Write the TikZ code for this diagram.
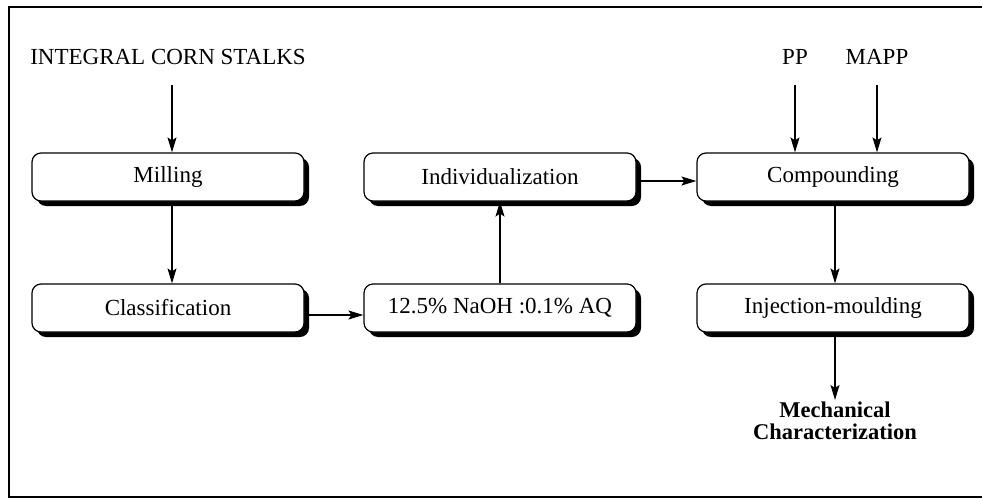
\documentclass[tikz,border=0pt]{standalone}
\usepackage{fontspec}
\setmainfont{Liberation Serif}
\usetikzlibrary{arrows.meta,shadows}
\begin{document}
\begin{tikzpicture}[x=1pt,y=-1pt,
  stepbox/.style={draw, line width=1.2pt, rounded corners=9pt, fill=white,
    minimum width=272pt, minimum height=48pt, inner sep=0pt, font=\fontsize{23}{26}\selectfont,
    drop shadow={shadow xshift=5pt, shadow yshift=-5pt, fill=black, opacity=1}},
  lbl/.style={font=\fontsize{23}{26}\selectfont, inner sep=0pt},
  arr/.style={line width=1.3pt, -{Stealth[length=15pt,width=9pt,inset=3pt]}}
]
\useasboundingbox (0,0) rectangle (982,500);
\draw[line width=2pt] (982,7) -- (9,7) -- (9,497) -- (982,497);
\node[stepbox] (mill) at (168,177) {Milling};
\node[stepbox] (class) at (168,308) {Classification};
\node[stepbox] (indiv) at (500,177) {Individualization};
\node[stepbox] (naoh) at (500,308) {12.5\% NaOH :0.1\% AQ};
\node[stepbox] (comp) at (833,177) {Compounding};
\node[stepbox] (inj) at (833,308) {Injection-moulding};
\node[lbl] (corn) at (168,57) {INTEGRAL CORN STALKS};
\node[lbl] (pp) at (795,57) {PP};
\node[lbl] (mapp) at (877,57) {MAPP};
\node[lbl, font=\fontsize{22.5}{22}\selectfont\bfseries, align=center] (mech) at (835,421) {Mechanical\\Characterization};
\coordinate (cornend) at (172,85);
\coordinate (ppend) at (795,85);
\coordinate (mappend) at (877,85);
\draw[arr] (cornend) -- (cornend |- mill.north);
\draw[arr] (ppend) -- (ppend |- comp.north);
\draw[arr] (mappend) -- (mappend |- comp.north);
\draw[arr] (mill.south -| cornend) -- (class.north -| cornend);
\draw[arr] (class.east |- 0,315) -- (naoh.west |- 0,315);
\draw[arr] (naoh.north) -- (indiv.south);
\draw[arr] (indiv.east |- 0,181) -- (comp.west |- 0,181);
\draw[arr] (comp.south -| 835,0) -- (inj.north -| 835,0);
\draw[arr] (inj.south -| 835,0) -- (835,400);
\end{tikzpicture}
\end{document}
